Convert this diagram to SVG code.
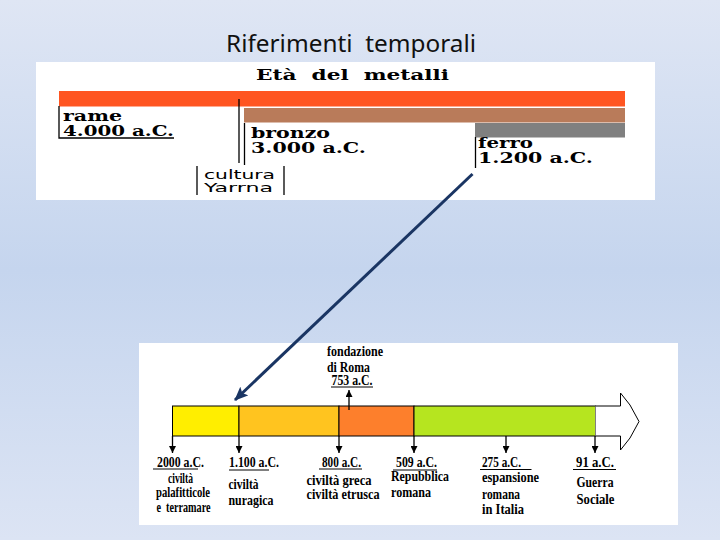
<svg xmlns="http://www.w3.org/2000/svg" width="720" height="540" viewBox="0 0 720 540">
<defs>
<linearGradient id="bg" x1="0" y1="0" x2="0" y2="1">
<stop offset="0" stop-color="#dfe6f4"/>
<stop offset="0.5" stop-color="#c5d5ee"/>
<stop offset="1" stop-color="#dce4f4"/>
</linearGradient>
<marker id="ah" markerUnits="userSpaceOnUse" markerWidth="7" markerHeight="7" refX="7" refY="3.5" orient="auto">
<path d="M0,0 L7,3.5 L0,7 z" fill="#000"/>
</marker>
<marker id="nav" markerUnits="userSpaceOnUse" markerWidth="14" markerHeight="12" refX="13" refY="6" orient="auto">
<path d="M0,0 L14,6 L0,12 L3,6 z" fill="#1a3563"/>
</marker>
<style>
.t1{font-family:"DejaVu Serif","Liberation Serif",serif;font-weight:bold;font-size:14px;fill:#000}
.t2{font-family:"DejaVu Sans","Liberation Sans",sans-serif;font-size:12px;fill:#000}
.lb{font-family:"Liberation Serif","Times New Roman",serif;font-weight:bold;font-size:14px;fill:#000}
.ln{stroke:#000;stroke-width:1.3;fill:none}
.dn{stroke:#000;stroke-width:1.3;fill:none;marker-end:url(#ah)}
.ul{stroke:#000;stroke-width:1}
</style>
</defs>
<rect x="0" y="0" width="720" height="540" fill="url(#bg)"/>
<text x="351" y="52" text-anchor="middle" font-family="'Noto Sans','Open Sans',sans-serif" font-size="24" fill="#111" textLength="250" lengthAdjust="spacingAndGlyphs" xml:space="preserve">Riferimenti  temporali</text>

<g id="eta-metalli">
<rect x="36" y="62" width="619" height="138" fill="#fff"/>
<text class="t1" x="256" y="80" textLength="193" lengthAdjust="spacingAndGlyphs" xml:space="preserve">Età  del  metalli</text>
<rect x="59" y="91" width="566" height="15.5" fill="#ff5521"/>
<rect x="244" y="108" width="381" height="14.5" fill="#b97b5a"/>
<rect x="475" y="123" width="150" height="14.5" fill="#808080"/>
<line class="ln" x1="239" y1="99" x2="239" y2="163"/>
<g id="rame">
<polyline class="ln" points="59,106 59,138 174,138"/>
<text class="t1" x="63" y="121" textLength="59" lengthAdjust="spacingAndGlyphs">rame</text>
<text class="t1" x="63" y="136" textLength="111" lengthAdjust="spacingAndGlyphs">4.000 a.C.</text>
</g>
<g id="bronzo">
<line class="ln" x1="244.5" y1="123" x2="244.5" y2="165"/>
<text class="t1" x="251" y="137.5" textLength="79" lengthAdjust="spacingAndGlyphs">bronzo</text>
<text class="t1" x="251" y="153" textLength="115" lengthAdjust="spacingAndGlyphs">3.000 a.C.</text>
</g>
<g id="ferro">
<line class="ln" x1="475.5" y1="137" x2="475.5" y2="168"/>
<text class="t1" x="478" y="148" textLength="55" lengthAdjust="spacingAndGlyphs">ferro</text>
<text class="t1" x="478" y="163" textLength="115" lengthAdjust="spacingAndGlyphs">1.200 a.C.</text>
</g>
<g id="cultura">
<line class="ln" x1="197" y1="166" x2="197" y2="195"/>
<line class="ln" x1="284" y1="166" x2="284" y2="195"/>
<text class="t2" x="204" y="179" textLength="71" lengthAdjust="spacingAndGlyphs">cultura</text>
<text class="t2" x="204" y="192" textLength="69" lengthAdjust="spacingAndGlyphs">Yarrna</text>
</g>
</g>

<g id="timeline">
<rect x="139" y="343" width="539" height="182" fill="#fff"/>
<rect x="172.5" y="406" width="66.5" height="30" fill="#ffee00" stroke="#000" stroke-width="1"/>
<rect x="239" y="406" width="100" height="30" fill="#ffc41f" stroke="#000" stroke-width="1"/>
<rect x="339" y="406" width="75" height="30" fill="#fd7f2c" stroke="#000" stroke-width="1"/>
<rect x="414" y="406" width="181.5" height="30" fill="#b6e51f" stroke="#000" stroke-width="1"/>
<path d="M595.5,406 H620.5 V393 L630,405 L639,421.5 L630,438 L620.5,450 V436 H595.5" fill="#fff" stroke="#000" stroke-width="1"/>
<line class="dn" x1="172.5" y1="436" x2="172.5" y2="453"/>
<line class="dn" x1="239" y1="436" x2="239" y2="453"/>
<line class="dn" x1="339" y1="436" x2="339" y2="453"/>
<line class="dn" x1="414" y1="436" x2="414" y2="453"/>
<line class="dn" x1="506" y1="436" x2="506" y2="453"/>
<line class="dn" x1="595" y1="436" x2="595" y2="453"/>
<line class="dn" x1="349" y1="410" x2="349" y2="390"/>

<g id="roma">
<text class="lb" x="327" y="356" textLength="56" lengthAdjust="spacingAndGlyphs">fondazione</text>
<text class="lb" x="327" y="371.5" textLength="43" lengthAdjust="spacingAndGlyphs">di Roma</text>
<text class="lb" x="331.5" y="385" textLength="41" lengthAdjust="spacingAndGlyphs">753 a.C.</text>
<line class="ul" x1="331" y1="387" x2="373" y2="387"/>
</g>
<g id="l2000">
<text class="lb" x="157" y="466.5" textLength="47" lengthAdjust="spacingAndGlyphs">2000 a.C.</text>
<line class="ul" x1="153" y1="469" x2="198" y2="469"/>
<text class="lb" x="168" y="483" textLength="25" lengthAdjust="spacingAndGlyphs">civiltà</text>
<text class="lb" x="156" y="497" textLength="54" lengthAdjust="spacingAndGlyphs">palafitticole</text>
<text class="lb" x="156.5" y="511.5" textLength="54" lengthAdjust="spacingAndGlyphs" xml:space="preserve">e  terramare</text>
</g>
<g id="l1100">
<text class="lb" x="229" y="467" textLength="50" lengthAdjust="spacingAndGlyphs">1.100 a.C.</text>
<line class="ul" x1="229" y1="470" x2="269" y2="470"/>
<text class="lb" x="228.5" y="488.5" textLength="30" lengthAdjust="spacingAndGlyphs">civiltà</text>
<text class="lb" x="228.5" y="504.5" textLength="45" lengthAdjust="spacingAndGlyphs">nuragica</text>
</g>
<g id="l800">
<text class="lb" x="322" y="466.5" textLength="39" lengthAdjust="spacingAndGlyphs">800 a.C.</text>
<line class="ul" x1="319" y1="469" x2="362" y2="469"/>
<text class="lb" x="306.5" y="485" textLength="65" lengthAdjust="spacingAndGlyphs">civiltà greca</text>
<text class="lb" x="306.5" y="499" textLength="73" lengthAdjust="spacingAndGlyphs">civiltà etrusca</text>
</g>
<g id="l509">
<text class="lb" x="396" y="467" textLength="41" lengthAdjust="spacingAndGlyphs">509 a.C.</text>
<line class="ul" x1="393" y1="470" x2="437" y2="470"/>
<text class="lb" x="391" y="481" textLength="58" lengthAdjust="spacingAndGlyphs">Repubblica</text>
<text class="lb" x="391" y="497" textLength="40" lengthAdjust="spacingAndGlyphs">romana</text>
</g>
<g id="l275">
<text class="lb" x="482" y="467" textLength="39" lengthAdjust="spacingAndGlyphs">275 a.C.</text>
<line class="ul" x1="480" y1="469.5" x2="531.5" y2="469.5"/>
<text class="lb" x="482" y="482" textLength="57" lengthAdjust="spacingAndGlyphs">espansione</text>
<text class="lb" x="482" y="498.5" textLength="38" lengthAdjust="spacingAndGlyphs">romana</text>
<text class="lb" x="482" y="514" textLength="42" lengthAdjust="spacingAndGlyphs">in Italia</text>
</g>
<g id="l91">
<text class="lb" x="576" y="467" textLength="38" lengthAdjust="spacingAndGlyphs">91 a.C.</text>
<line class="ul" x1="573" y1="469.5" x2="616" y2="469.5"/>
<text class="lb" x="576.5" y="487" textLength="37" lengthAdjust="spacingAndGlyphs">Guerra</text>
<text class="lb" x="576.5" y="503.5" textLength="38" lengthAdjust="spacingAndGlyphs">Sociale</text>
</g>
</g>

<g id="connectors">
<line x1="472.5" y1="174" x2="235" y2="400" stroke="#1a3563" stroke-width="3" marker-end="url(#nav)"/>
</g>
</svg>
